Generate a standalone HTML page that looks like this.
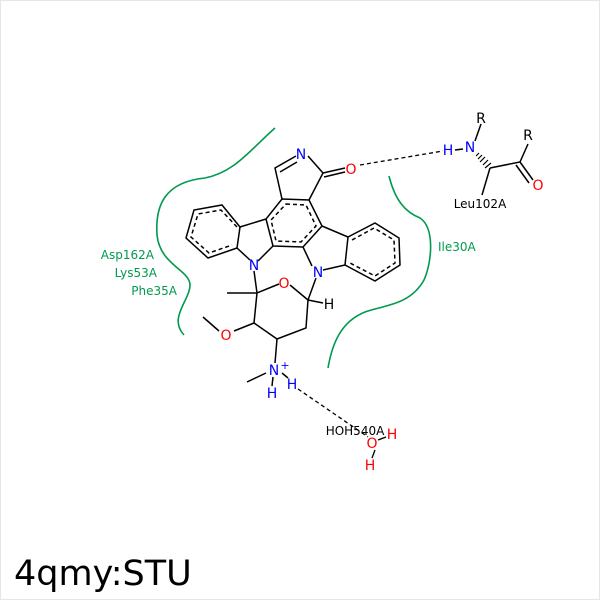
<!DOCTYPE html>
<html><head><style>body{margin:0;background:#fff}svg{display:block}</style></head><body>
<svg width="600" height="600" viewBox="0 0 600 600" xmlns="http://www.w3.org/2000/svg" font-family="DejaVu Sans, Liberation Sans, sans-serif">
<rect x="0.5" y="0.5" width="599" height="599" fill="#fff" stroke="#e6e6e6"/>
<g fill="none" stroke="#009a4e" stroke-width="1.6">
<path d="M275,128 C250,150 235,172 205,178 C165,182 155,205 157,235 C160,265 190,270 190,285 C190,300 168,318 184,335"/>
<path d="M389,176 C395,200 405,212 420,218 C435,228 432,262 424,280 C410,305 385,305 365,312 C340,322 332,345 328,368"/>
</g>
<g stroke="#000" stroke-width="1.5" fill="none">
<path d="M282,199 L275,168 L296,156 M308,156 L323,173 L309,200"/>
<path d="M280,172 L297,162" />
<path d="M323,173 L345,168 M324,177 L345,172"/>
<path d="M282,199 L309,200 L322,226 L303,247 L273,246 L266,219 Z"/>
<path d="M286,204 L306,205 L316,226 L301,242 L276,241 L271,220 Z" stroke-dasharray="4,3"/>
<path d="M266,219 L240,227 L237,248 L250,260 M258,261 L273,246"/>
<path d="M240,227 L222,205 L194,210 L186,238 L208,258 L237,248"/>
<path d="M237,227 L221,210 L198,214 L191,237 L209,253 L232,245" stroke-dasharray="4,3"/>
<path d="M322,226 L348,237 L345,265 L323,270 M312,266 L303,247"/>
<path d="M348,237 L375,223 L399,238 L400,265 L375,281 L345,265"/>
<path d="M352,240 L374,228 L394,240 L395,263 L375,276 L350,263" stroke-dasharray="4,3"/>
<path d="M254,271 L257,293 L279,284 M290,285 L308,300 L306,328 L277,339 L254,323 L257,293"/>
<path d="M257,293 L227,293 M308,300 L323,303 M316,278 L308,300"/>
<path d="M254,323 L234,331 M219,331 L203,317"/>
<path d="M277,339 L275,363 M266,373 L247,382 M273,377 L272,386 M282,373 L288,378"/>
<path d="M475,141 L481,124"/>
<path d="M490,168 L520,162 L528,144 M520,162 L533,180 M516,165 L529,183"/>
<path d="M490,168 L482,195"/>
<path d="M455,150 L463,149"/>
</g>
<g stroke="#000" stroke-width="1.2">
<path d="M476,156 L479,153 M478,159 L482,155 M480,162 L485,157 M483,165 L488,160 M485,168 L491,163"/>
</g>
<g stroke="#000" stroke-width="1.3" stroke-dasharray="4,3" fill="none">
<path d="M360,165 L443,151"/>
<path d="M298,389 L368,437"/>
</g>
<g font-size="14" text-anchor="middle">
<text x="301" y="159" fill="#00f">N</text>
<text x="351" y="174" fill="#f00">O</text>
<text x="254" y="270" fill="#00f">N</text>
<text x="318" y="277" fill="#00f">N</text>
<text x="284" y="288" fill="#f00">O</text>
<text x="329" y="309" fill="#000">H</text>
<text x="226" y="340" fill="#f00">O</text>
<text x="274" y="375" fill="#00f">N</text>
<text x="285" y="369" fill="#00f" font-size="11">+</text>
<text x="272" y="398" fill="#00f">H</text>
<text x="292" y="389" fill="#00f">H</text>
<text x="448" y="155" fill="#00f">H</text>
<text x="470" y="152" fill="#00f">N</text>
<text x="481" y="123" fill="#000">R</text>
<text x="528" y="140" fill="#000">R</text>
<text x="538" y="190" fill="#f00">O</text>
<text x="372" y="448" fill="#f00">O</text>
<text x="392" y="439" fill="#f00">H</text>
<text x="370" y="470" fill="#f00">H</text>
</g>
<path d="M375,450 L372,458 M378,440 L386,437" stroke="#000" stroke-width="1.3"/>
<g font-size="12">
<text x="480" y="208" text-anchor="middle" fill="#000">Leu102A</text>
<text x="355" y="435" text-anchor="middle" fill="#000">HOH540A</text>
<text x="154" y="259" text-anchor="end" fill="#009a4e">Asp162A</text>
<text x="157" y="277" text-anchor="end" fill="#009a4e">Lys53A</text>
<text x="177" y="295" text-anchor="end" fill="#009a4e">Phe35A</text>
<text x="438" y="251" fill="#009a4e">Ile30A</text>
</g>
<text x="14" y="585" font-size="35" fill="#000">4qmy:STU</text>
</svg>
</body></html>
